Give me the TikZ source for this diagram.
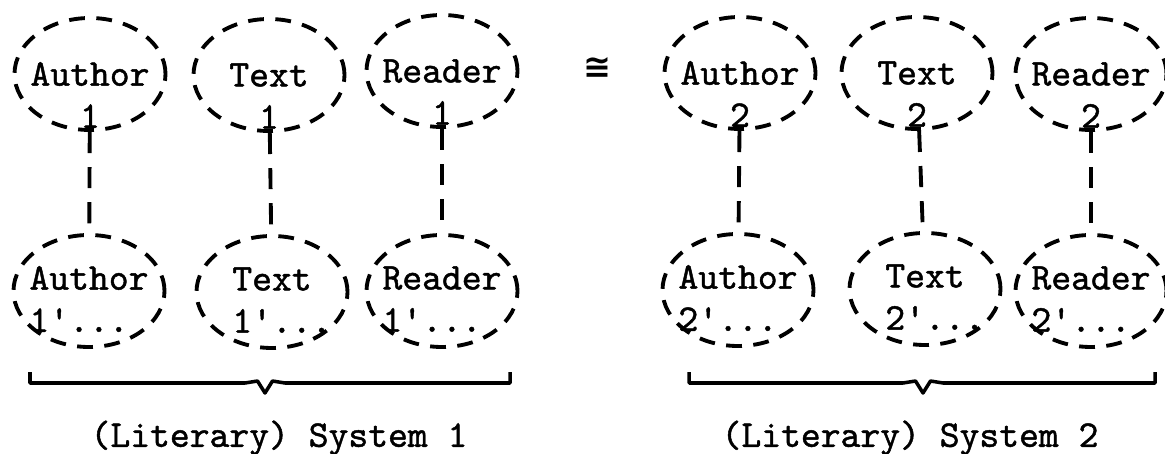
\documentclass[tikz,border=0pt]{standalone}
\usepackage{fontspec}
\setmonofont{lmmono10-regular.otf}[FakeBold=1.2]
\newfontfamily\symbolfont{DejaVu Sans}
\usetikzlibrary{shapes.geometric}
\begin{document}
\begin{tikzpicture}[line width=2.2pt,
  oval/.style={ellipse,draw,dash pattern=on 9pt off 6.5pt,minimum width=3.02cm,minimum height=2.24cm,inner sep=0pt},
  word/.style={font=\fontsize{21.5}{24}\selectfont\ttfamily,inner sep=0pt},
  link/.style={dash pattern=on 12pt off 8pt},
  brace/.style={line width=2pt,line join=round}]
\useasboundingbox (0,0) rectangle (23.3,9.06);

% system 1
\node [oval] (a1) at (1.80,7.58) {};
\node [oval] (t1) at (5.38,7.56) {};
\node [oval] (r1) at (8.84,7.64) {};
\node [oval] (a1p) at (1.78,3.24) {};
\node [oval] (t1p) at (5.44,3.22) {};
\node [oval] (r1p) at (8.84,3.24) {};

% system 2
\node [oval] (a2) at (14.80,7.60) {};
\node [oval] (t2) at (18.34,7.60) {};
\node [oval] (r2) at (21.82,7.58) {};
\node [oval] (a2p) at (14.76,3.26) {};
\node [oval] (t2p) at (18.50,3.28) {};
\node [oval] (r2p) at (21.82,3.24) {};

\node [word,align=center] (a1l) at ([yshift=-0.42cm]a1.center) {Author\\1};
\node [word,align=center] (t1l) at ([yshift=-0.42cm]t1.center) {Text\\1};
\node [word,align=center] (r1l) at ([yshift=-0.42cm]r1.center) {Reader\\1};
\node [word,align=left] (a1pl) at ([yshift=-0.16cm]a1p.center) {Author\\\rlap{1'...}};
\node [word,align=left] (t1pl) at ([yshift=-0.16cm]t1p.center) {Text\\\rlap{1'...}};
\node [word,align=left] (r1pl) at ([yshift=-0.16cm]r1p.center) {Reader\\\rlap{1'...}};

\node [word,align=center] (a2l) at ([yshift=-0.42cm]a2.center) {Author\\2};
\node [word,align=center] (t2l) at ([yshift=-0.42cm]t2.center) {Text\\2};
\node [word,align=center] (r2l) at ([yshift=-0.42cm]r2.center) {Reader\\2};
\node [word,align=left] (a2pl) at ([yshift=-0.16cm]a2p.center) {Author\\\rlap{2'...}};
\node [word,align=left] (t2pl) at ([yshift=-0.16cm]t2p.center) {Text\\\rlap{2'...}};
\node [word,align=left] (r2pl) at ([yshift=-0.16cm]r2p.center) {Reader\\\rlap{2'...}};

\draw [link] (a1) -- (a1p);
\draw [link] (t1) -- (t1p);
\draw [link] (r1) -- (r1p);
\draw [link] (a2) -- (a2p);
\draw [link] (t2) -- (t2p);
\draw [link] (r2) -- (r2p);

\node [font=\fontsize{19}{20}\symbolfont\bfseries,inner sep=0pt] (iso) at (11.94,7.70) {≅};

% brackets
\draw [brace] (0.60,1.62) -- (0.60,1.40) -- (4.90,1.40) -- (5.15,1.44) -- (5.30,1.20)
  -- (5.45,1.44) -- (5.70,1.40) -- (10.20,1.40) -- (10.20,1.62);
\draw [brace] (13.78,1.62) -- (13.78,1.40) -- (18.06,1.40) -- (18.31,1.44) -- (18.46,1.20)
  -- (18.61,1.44) -- (18.86,1.40) -- (23.10,1.40) -- (23.10,1.62);

\node [word] (sys1) at (5.58,0.30) {(Literary) System 1};
\node [word] (sys2) at (18.20,0.30) {(Literary) System 2};
\end{tikzpicture}
\end{document}
